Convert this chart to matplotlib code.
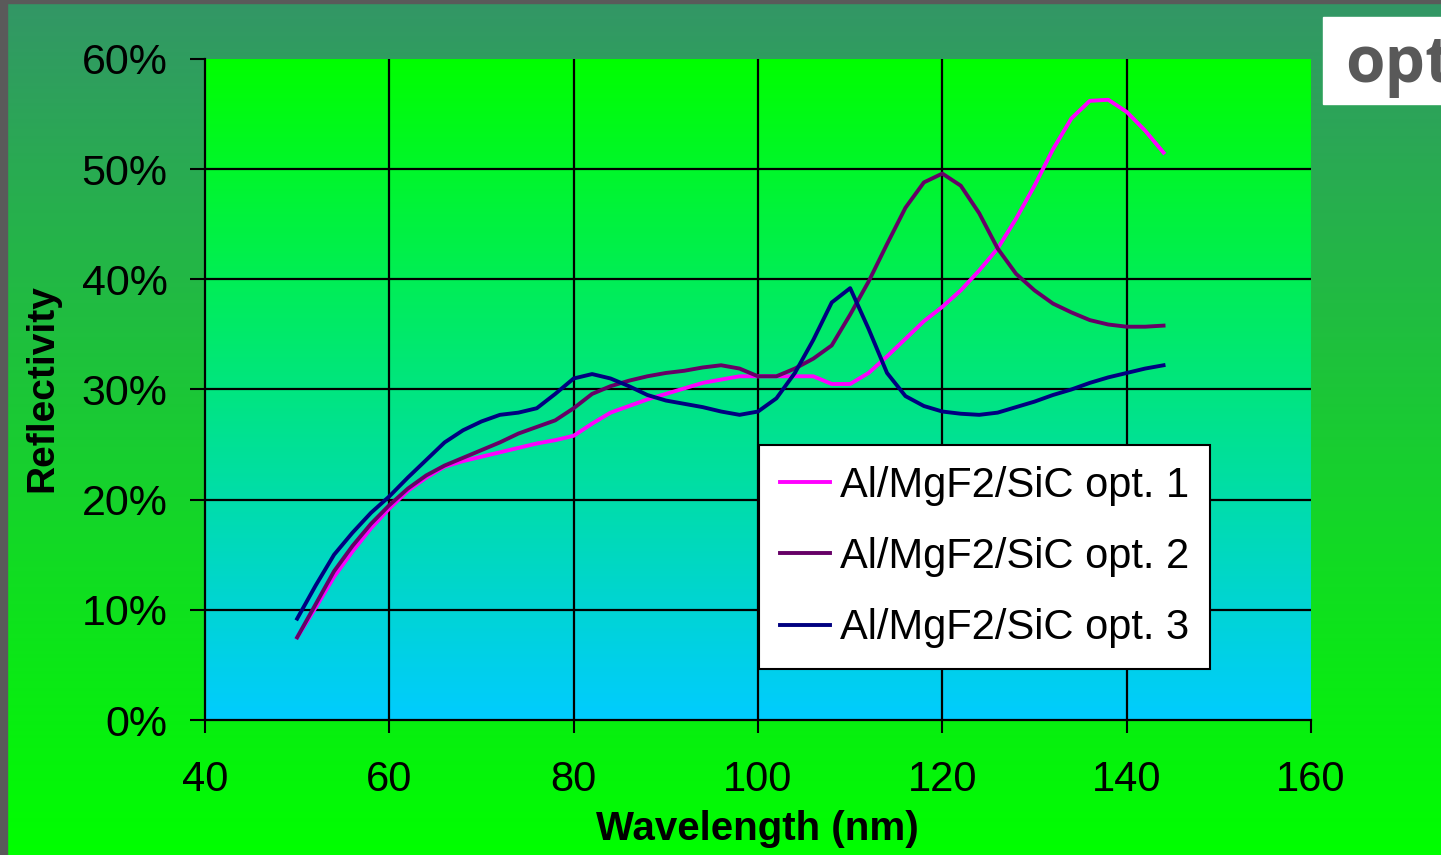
import numpy as np
import matplotlib.pyplot as plt
from matplotlib.patches import Rectangle

plt.rcParams['font.family'] = ['Liberation Sans', 'DejaVu Sans']

# wavelength (nm)
wavelength = [50, 52, 54, 56, 58, 60, 62, 64, 66, 68, 70, 72, 74, 76, 78, 80,
              82, 84, 86, 88, 90, 92, 94, 96, 98, 100, 102, 104, 106, 108, 110,
              112, 114, 116, 118, 120, 122, 124, 126, 128, 130, 132, 134, 136,
              138, 140, 142, 144]

# reflectivity (%)
opt1 = [7.5, 10.2, 13.0, 15.3, 17.4, 19.2, 20.8, 22.0, 23.0, 23.5, 23.9, 24.3,
        24.7, 25.1, 25.4, 25.8, 26.9, 27.9, 28.5, 29.1, 29.6, 30.1, 30.6, 30.9,
        31.2, 31.2, 31.2, 31.2, 31.2, 30.5, 30.5, 31.5, 33.0, 34.6, 36.2, 37.5,
        39.0, 40.8, 42.8, 45.5, 48.5, 51.8, 54.6, 56.2, 56.3, 55.2, 53.5, 51.5]
opt2 = [7.5, 10.5, 13.5, 15.8, 17.8, 19.5, 21.0, 22.2, 23.1, 23.8, 24.5, 25.2,
        26.0, 26.6, 27.2, 28.3, 29.6, 30.3, 30.8, 31.2, 31.5, 31.7, 32.0, 32.2,
        31.9, 31.2, 31.2, 31.9, 32.8, 34.0, 36.8, 39.8, 43.2, 46.5, 48.8, 49.6,
        48.5, 46.0, 42.8, 40.5, 39.0, 37.8, 37.0, 36.3, 35.9, 35.7, 35.7, 35.8]
opt3 = [9.2, 12.2, 15.0, 17.0, 18.8, 20.3, 22.0, 23.6, 25.2, 26.3, 27.1, 27.7,
        27.9, 28.3, 29.6, 31.0, 31.4, 31.0, 30.3, 29.5, 29.0, 28.7, 28.4, 28.0,
        27.7, 28.0, 29.2, 31.5, 34.5, 37.9, 39.2, 35.5, 31.5, 29.4, 28.5, 28.0,
        27.8, 27.7, 27.9, 28.4, 28.9, 29.5, 30.0, 30.6, 31.1, 31.5, 31.9, 32.2]

labels = ['Al/MgF2/SiC opt. 1', 'Al/MgF2/SiC opt. 2', 'Al/MgF2/SiC opt. 3']
colors = ['#ff00ff', '#660066', '#000080']

fig = plt.figure(figsize=(14.41, 8.55), dpi=100)

# slide background: dark green to bright green
bg = fig.add_axes([0, 0, 1, 1], zorder=-10)
t = np.linspace(0, 1, 256)[:, None]
top_c = np.array([51, 150, 102]) / 255
bot_c = np.array([0, 255, 0]) / 255
grad = top_c[None, None, :] * (1 - t[:, :, None]) + bot_c[None, None, :] * t[:, :, None]
bg.imshow(grad, aspect='auto', extent=[0, 1, 0, 1], origin='upper')
bg.set_xlim(0, 1)
bg.set_ylim(0, 1)
bg.axis('off')
bg.add_patch(Rectangle((0, 0), 7 / 1441, 1, color='#5a5a5a'))
bg.add_patch(Rectangle((0, 1 - 3 / 855), 1, 3 / 855, color='#5a5a5a'))
# white title box, cut off at the right edge as on the slide
bg.add_patch(Rectangle((1323 / 1441, 1 - 104 / 855), 118 / 1441, 87 / 855, color='white'))
bg.text(1345 / 1441, 1 - 82 / 855, 'opt', family=['Open Sans', 'DejaVu Sans'],
        fontsize=46, fontweight='bold', color='#595959', va='baseline', ha='left',
        clip_on=True)

ax = fig.add_axes([205 / 1441, 1 - 720 / 855, 1106 / 1441, 661 / 855])

# plot area gradient: green at top to cyan at bottom
ptop = np.array([0, 255, 0]) / 255
pbot = np.array([0, 204, 255]) / 255
pgrad = ptop[None, None, :] * (1 - t[:, :, None]) + pbot[None, None, :] * t[:, :, None]
ax.imshow(pgrad, aspect='auto', extent=[40, 160, 0, 60], origin='upper', zorder=0)

for x in [60, 80, 100, 120, 140]:
    ax.axvline(x, color='black', lw=1.6, zorder=1)
for y in [10, 20, 30, 40, 50]:
    ax.axhline(y, color='black', lw=1.6, zorder=1)

for vals, lab, c in zip([opt1, opt2, opt3], labels, colors):
    ax.plot(wavelength, vals, color=c, lw=2.8, label=lab, zorder=3)

ax.set_xlim(40, 160)
ax.set_ylim(0, 60)
ax.set_xticks([40, 60, 80, 100, 120, 140, 160])
ax.set_yticks([0, 10, 20, 30, 40, 50, 60])
ax.set_yticklabels([f'{v}%' for v in [0, 10, 20, 30, 40, 50, 60]])
ax.tick_params(axis='y', labelsize=31, length=11, width=1.5, pad=16)
ax.tick_params(axis='x', labelsize=30, length=9, width=1.5, pad=20)
for s in ['top', 'right']:
    ax.spines[s].set_visible(False)
for s in ['left', 'bottom']:
    ax.spines[s].set_linewidth(1.6)
    ax.spines[s].set_zorder(4)

ax.set_xlabel('Wavelength (nm)', fontsize=29, fontweight='bold', va='center')
ax.xaxis.set_label_coords(0.499, -0.165)
ax.set_ylabel('Reflectivity', fontsize=28, fontweight='bold', va='center')
ax.yaxis.set_label_coords(-0.147, 0.502)

leg = ax.legend(loc='upper left', bbox_to_anchor=(759 / 1441, 1 - 445 / 855),
                bbox_transform=fig.transFigure, borderaxespad=0, fontsize=30,
                handlelength=1.2, handletextpad=0.25, labelspacing=0.75,
                borderpad=0.5, fancybox=False, framealpha=1, edgecolor='black')
leg.get_frame().set_linewidth(1.5)
leg.set_zorder(5)

fig.savefig('out.png', dpi=100)
